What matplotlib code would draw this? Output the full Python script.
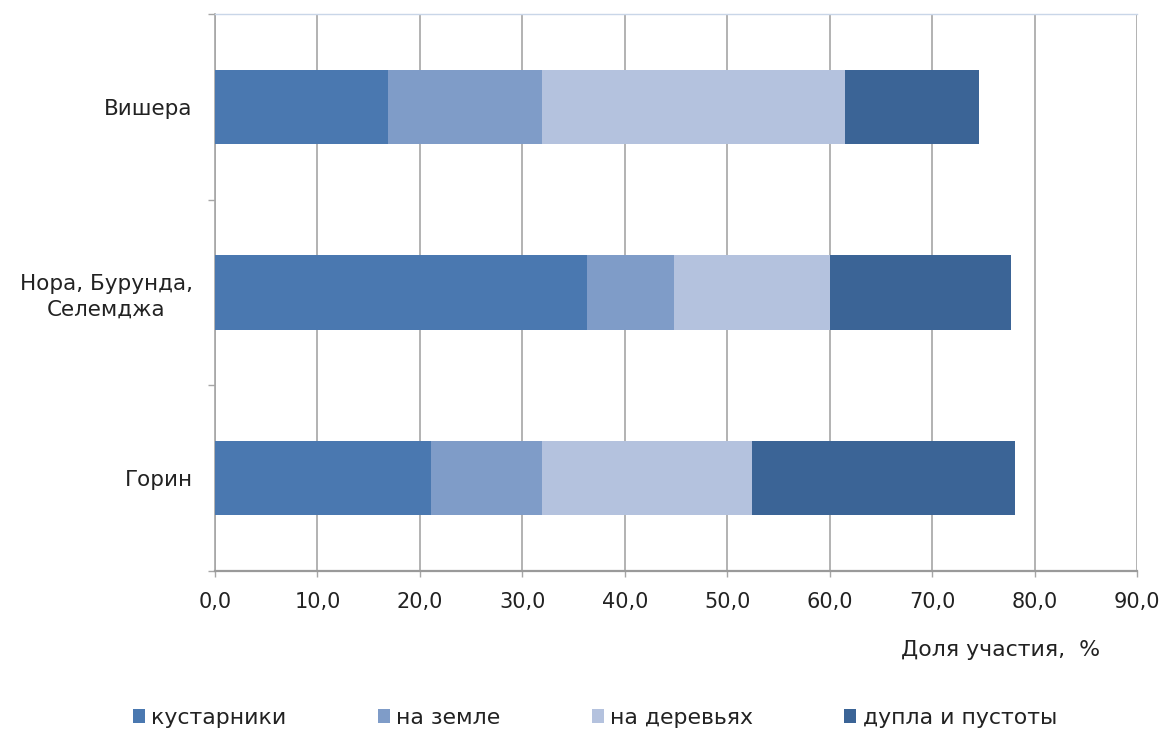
import matplotlib
matplotlib.use("Agg")
import matplotlib.pyplot as plt
from matplotlib.patches import Patch
import numpy as np

plt.rcParams['font.family'] = ['DejaVu Sans']

categories = ["Вишера", "Нора, Бурунда,\nСелемджа", "Горин"]
series_names = ["кустарники", "на земле", "на деревьях", "дупла и пустоты"]
shrubs = [16.9, 36.3, 21.1]
ground = [15.0, 8.5, 10.8]
trees = [29.6, 15.2, 20.5]
hollows = [13.1, 17.7, 25.7]
xticks = [0, 10, 20, 30, 40, 50, 60, 70, 80, 90]
xtick_labels = ["0,0", "10,0", "20,0", "30,0", "40,0", "50,0", "60,0", "70,0", "80,0", "90,0"]
xlabel = "Доля участия,  %"

colors = ["#4a78b0", "#7f9cc8", "#b4c2de", "#3b6496"]

fig = plt.figure(figsize=(11.64, 7.29), dpi=100)
ax = fig.add_axes([215/1164, 1-571/729, (1137-215)/1164, (571-14)/729])

ypos = np.arange(len(categories))[::-1]  # top category first
left = np.zeros(len(categories))
for vals, col, name in zip([shrubs, ground, trees, hollows], colors, series_names):
    ax.barh(ypos, vals, left=left, height=0.4, color=col, label=name, zorder=3)
    left = left + np.array(vals)

ax.set_xlim(0, 90)
ax.set_ylim(-0.5, 2.5)
ax.set_xticks(xticks)
ax.set_xticklabels(xtick_labels)
ax.grid(axis='x', color='#a6a6a6', linewidth=1.2, zorder=0)

ax.set_yticks([-0.5, 0.5, 1.5, 2.5])
ax.set_yticklabels([])
ax.set_yticks(ypos, minor=True)
ax.set_yticklabels(categories, minor=True)
for lab in ax.get_yticklabels(minor=True):
    lab.set_multialignment('center')
    lab.set_linespacing(1.3)
ax.tick_params(axis='y', which='minor', length=0, pad=16, labelsize=15.5, labelcolor='#222222')
ax.tick_params(axis='y', which='major', length=5, width=1, color='#a6a6a6', direction='out')
ax.tick_params(axis='x', length=4, width=1, color='#a6a6a6', direction='out', pad=11,
               labelsize=15, labelcolor='#222222')

ax.spines['right'].set_visible(False)
ax.spines['top'].set_color('#c9d6e8')
ax.spines['top'].set_linewidth(1.0)
ax.spines['left'].set_color('#a6a6a6')
ax.spines['left'].set_linewidth(1.2)
ax.spines['bottom'].set_color('#9a9a9a')
ax.spines['bottom'].set_linewidth(1.6)

fig.text(1100/1164, 1-650/729, xlabel, ha='right', va='center', fontsize=15.8, color='#222222')

handles = [Patch(facecolor=c, edgecolor='none') for c in colors]
fig.legend(handles, series_names, loc='center', bbox_to_anchor=(595/1164, 1-718/729),
           ncol=4, frameon=False, fontsize=15.8, handlelength=0.55, handleheight=0.6,
           handletextpad=0.3, columnspacing=4.15, labelcolor='#222222')

fig.savefig("out.png", dpi=100)
